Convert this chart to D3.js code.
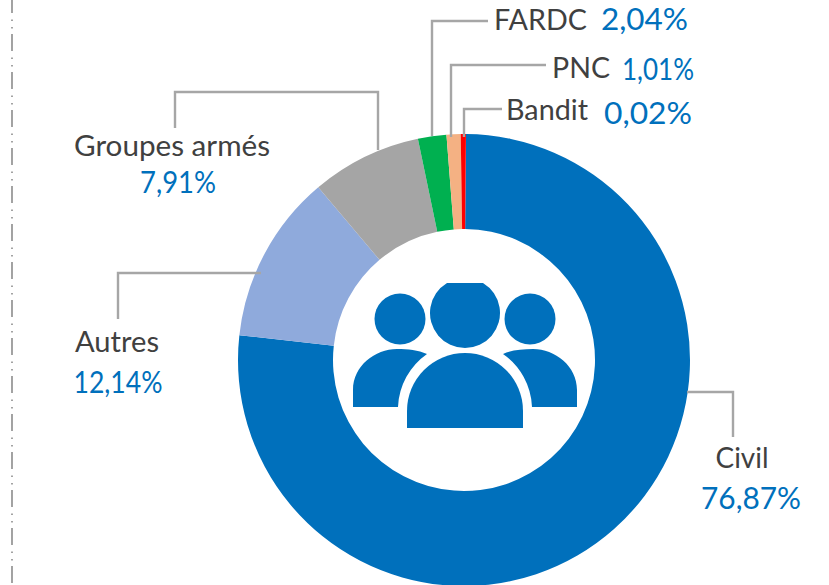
<!DOCTYPE html>
<html>
<head>
<meta charset="utf-8">
<script src="https://cdn.jsdelivr.net/npm/d3@7"></script>
<style>
    html, body { margin: 0; padding: 0; background: #fff; }
    svg { display: block; }
    text { font-family: Lato, "Open Sans", sans-serif; font-size: 29.5px; }
    text.share { font-size: 31px; }
</style>
</head>
<body>
<svg id="chart" width="829" height="585"></svg>
<script>
const categories = ['Civil', 'Autres', 'Groupes armés', 'FARDC', 'PNC', 'Bandit'];
const shares = [76.87, 12.14, 7.91, 2.04, 1.01, 0.02];
const sliceColors = ['#0070bc', '#8faadc', '#a5a5a5', '#00b050', '#f4b183', '#ff0000'];

const width = 829;
const height = 585;
const centerX = 464;
const centerY = 360;
const innerRadius = 131;
const outerRadius = 226;

const textColor = '#404040';
const valueColor = '#0070bc';
const leaderColor = '#a6a6a6';

// label layout, same order as categories (x, baseline, anchor, text width)
const labelPos = [
    { name: [742, 468, 'middle', 53], value: [751, 509, 'middle', 100] },
    { name: [117, 352, 'middle', 84], value: [118, 393, 'middle', 89] },
    { name: [172, 156, 'middle', 196], value: [178, 193, 'middle', 76] },
    { name: [494, 30, 'start', 93], value: [601, 30, 'start', 87] },
    { name: [552, 78, 'start', 58], value: [622, 80, 'start', 72] },
    { name: [506, 120, 'start', 82], value: [604, 124, 'start', 88] }
];

const leaders = [
    [[687, 392], [733, 392], [733, 437]],
    [[261, 273], [118, 273], [118, 319]],
    [[378, 150], [378, 92], [175, 92], [175, 128]],
    [[432, 136], [432, 21], [488, 21]],
    [[451, 137], [451, 65], [546, 65]],
    [[464, 137], [464, 109], [502, 109]]
];

const svg = d3.select('#chart');
const formatShare = d => d3.format('.2f')(d).replace('.', ',') + '%';
const deg = d => d * Math.PI / 180;

// dashed rule on the left edge
svg.append('line')
    .attr('x1', 12).attr('x2', 12)
    .attr('y1', -4).attr('y2', height)
    .attr('stroke', '#8c8c8c')
    .attr('stroke-width', 1.6)
    .attr('stroke-dasharray', '17 6.5 1.5 6 1.5 5.5');

// a small gap is left at the top so the Bandit slice stays visible
const startAngle = deg(0.5);
const pie = d3.pie().sort(null).startAngle(startAngle).endAngle(deg(359.24))(shares);
const arc = d3.arc().innerRadius(innerRadius).outerRadius(outerRadius);

const donut = svg.append('g')
    .attr('transform', `translate(${centerX},${centerY})`);

donut.selectAll('path')
    .data(pie)
    .enter().append('path')
    .attr('d', (d, i) => i === shares.length - 1
        ? arc({ ...d, endAngle: 2 * Math.PI + startAngle })
        : arc(d))
    .attr('fill', (d, i) => sliceColors[i]);

const line = d3.line();
svg.append('g')
    .selectAll('path')
    .data(leaders)
    .enter().append('path')
    .attr('d', line)
    .attr('fill', 'none')
    .attr('stroke', leaderColor)
    .attr('stroke-width', 2.4);

// Labels
const labels = svg.append('g');
function addLabel(pos, str, color, cls) {
    labels.append('text')
        .attr('class', cls)
        .attr('x', pos[0]).attr('y', pos[1])
        .attr('text-anchor', pos[2])
        .attr('textLength', pos[3])
        .attr('lengthAdjust', 'spacingAndGlyphs')
        .attr('fill', color)
        .text(str);
}
categories.forEach((name, i) => {
    addLabel(labelPos[i].name, name, textColor, 'name');
    addLabel(labelPos[i].value, formatShare(shares[i]), valueColor, 'share');
});

// People icon in the hole
const icon = svg.append('g').attr('fill', '#0070bc');
icon.append('circle').attr('cx', 400).attr('cy', 319).attr('r', 25.5);
icon.append('circle').attr('cx', 530).attr('cy', 319).attr('r', 25.5);
icon.append('path').attr('d', 'M447 283H483A35 35 0 1 1 447 283Z');
icon.append('path').attr('d', 'M407 428V411A58 58 0 0 1 523 411V428Z');
icon.append('path').attr('d', 'M353 407V390C353 366 375 349 397 349C408 349 418 350 427 354A68 68 0 0 0 398 407Z');
icon.append('path').attr('d', 'M577 407V390C577 366 555 349 533 349C522 349 512 350 503 354A68 68 0 0 1 532 407Z');
</script>
</body>
</html>
